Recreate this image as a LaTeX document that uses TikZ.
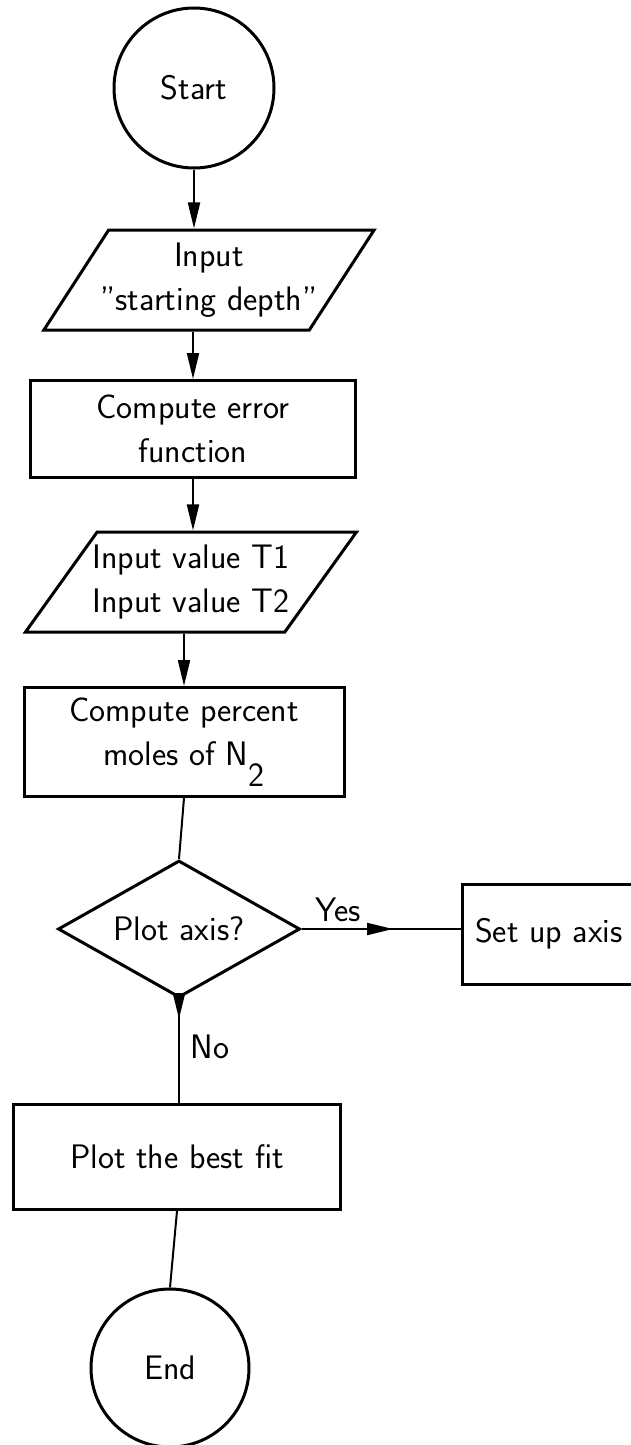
\documentclass[tikz,border=0pt]{standalone}
\usepackage{tikz}
\usetikzlibrary{shapes.geometric, arrows.meta}
\begin{document}
\begin{tikzpicture}[x=1pt, y=-1pt, font=\fontsize{34}{44}\selectfont\sffamily]
\tikzstyle{terminal} = [circle, draw, line width=3pt, minimum size=160pt, inner sep=0pt]
\tikzstyle{io} = [trapezium, trapezium stretches body, draw, line width=3pt, minimum height=100pt, align=center, inner ysep=0pt, inner xsep=-8pt]
\tikzstyle{process} = [rectangle, draw, line width=3pt, align=center, inner sep=0pt]
\tikzstyle{decision} = [diamond, draw, line width=3pt, aspect=1.8, minimum width=242pt, minimum height=137pt, inner sep=0pt]
\tikzstyle{flow} = [line width=2pt]
\tikzstyle{flowarrow} = [flow, -{Triangle[length=26pt, width=12pt]}]
\useasboundingbox (0,0) rectangle (631,1445);
\clip (0,0) rectangle (631,1445);
\node[terminal] (start) at (194,88) {Start};
\node[io, trapezium left angle=49, trapezium right angle=131, minimum width=323pt] (depth) at (209,280) {Input\\"starting depth"};
\node[process, minimum width=325pt, minimum height=97pt] (erf) at (193,429) {Compute error\\function};
\node[io, trapezium left angle=46, trapezium right angle=134, minimum width=331pt] (temps) at (191,582) {Input value T1\\Input value T2};
\node[process, minimum width=320pt, minimum height=109pt] (percent) at (184,742) {Compute percent\\moles of N\raisebox{-0.62em}{2}};
\node[decision] (plotq) at (179,929) {Plot axis?};
\node[process, minimum width=174pt, minimum height=100pt] (axis) at (549,934) {Set up axis};
\node[process, minimum width=327pt, minimum height=105pt] (bestfit) at (177,1157) {Plot the best fit};
\node[terminal, minimum size=158pt] (end) at (170,1368) {End};
\coordinate (yestip) at (393,929);
\coordinate (notip) at (179,1019);
\draw[flowarrow] (start.south) -- (start.south |- depth.north);
\draw[flowarrow] (erf.north |- depth.south) -- (erf.north);
\draw[flowarrow] (erf.south) -- (erf.south |- temps.north);
\draw[flowarrow] (percent.north |- temps.south) -- (percent.north);
\draw[flow] (percent.south) -- (plotq.north);
\draw[flow] (plotq.east) -- (plotq.east -| axis.west);
\draw[flowarrow] (plotq.east) -- (yestip);
\draw[flow] (plotq.south) -- (plotq.south |- bestfit.north);
\draw[flowarrow] (plotq.south) -- (notip);
\draw[flow] (bestfit.south) -- (end.north);
\node (yes) at (338,910) {Yes};
\node (no) at (210,1047) {No};
\end{tikzpicture}
\end{document}
